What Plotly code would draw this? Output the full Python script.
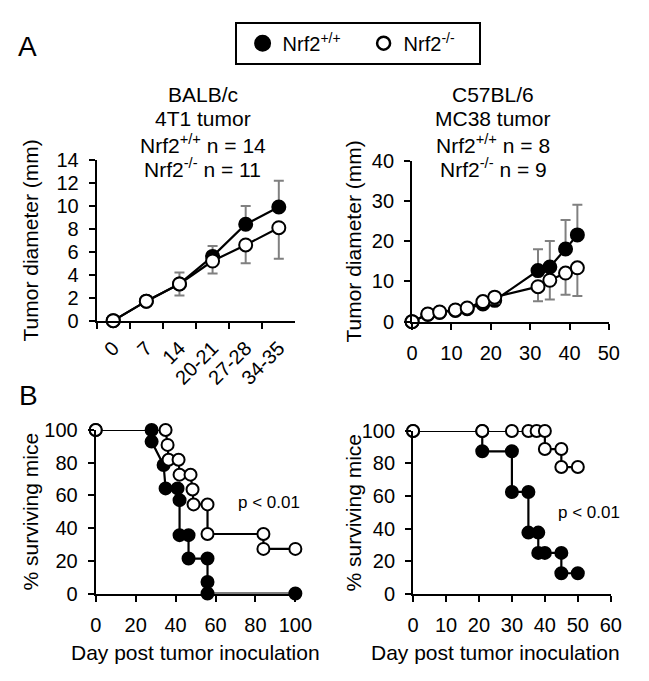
import plotly.graph_objects as go

# ---------------- Data ----------------
# Panel A (left): BALB/c, 4T1 tumor -- tumor diameter (mm) by day category
a_left_categories = ["0", "7", "14", "20-21", "27-28", "34-35"]
a_left_wt = [0, 1.7, 3.2, 5.6, 8.4, 9.9]
a_left_wt_err = [0, 0, 1.0, 0.9, 1.6, 2.3]
a_left_ko = [0, 1.7, 3.2, 5.2, 6.6, 8.1]
a_left_ko_err = [0, 0, 1.0, 1.1, 1.6, 2.7]

# Panel A (right): C57BL/6, MC38 tumor
a_right_days = [0, 4, 7, 11, 14, 18, 21, 32, 35, 39, 42]
a_right_wt = [0, 1.8, 2.3, 2.8, 3.2, 4.4, 5.3, 12.7, 13.6, 18.1, 21.6]
a_right_wt_err = [0, 0, 0, 0, 0.5, 0.8, 1.5, 5.3, 6.5, 7.2, 7.5]
a_right_ko = [0, 1.9, 2.4, 2.9, 3.4, 5.0, 6.1, 8.7, 10.3, 12.1, 13.4]
a_right_ko_err = [0, 0, 0, 0, 1.0, 1.0, 1.5, 3.6, 4.8, 5.4, 7.0]

# Panel B (left): survival (%), BALB/c
b_left_wt_days = [0, 28, 28, 34, 35, 41, 42, 42, 46.5, 46.5, 56, 56, 56, 100]
b_left_wt_surv = [100, 100, 92.9, 78.6, 64.3, 64.3, 57.1, 35.7, 35.7, 21.4, 21.4, 7.1, 0, 0]
b_left_ko_days = [0, 35, 36, 36.5, 41.5, 42, 47.5, 48.5, 49, 56, 56, 84, 84, 100]
b_left_ko_surv = [100, 100, 90.9, 81.8, 81.8, 72.7, 72.7, 63.6, 54.5, 54.5, 36.4, 36.4, 27.3, 27.3]

# Panel B (right): survival (%), C57BL/6
b_right_wt_days = [0, 21, 21, 30, 30, 35, 35, 38, 38, 40, 45, 45, 50]
b_right_wt_surv = [100, 100, 87.5, 87.5, 62.5, 62.5, 37.5, 37.5, 25, 25, 25, 12.5, 12.5]
b_right_ko_days = [0, 21, 30, 35, 37.5, 40, 40, 45, 45, 50]
b_right_ko_surv = [100, 100, 100, 100, 100, 100, 88.9, 88.9, 77.8, 77.8]

wt_name = "Nrf2<sup>+/+</sup>"
ko_name = "Nrf2<sup>-/-</sup>"
left_title_lines = ["BALB/c", "4T1 tumor", wt_name + " n = 14", ko_name + " n = 11"]
right_title_lines = ["C57BL/6", "MC38 tumor", wt_name + " n = 8", ko_name + " n = 9"]

FONT = "Liberation Sans, Arial, sans-serif"
W, H = 649, 681
ERR_COLOR = "#808080"

fig = go.Figure()


def px_x(p):
    return p / W


def px_y(p):
    return 1 - p / H


def add_series(x, y, err, filled, xa, ya, size, err_plus=True):
    kw = {}
    if err is not None:
        if err_plus:
            kw["error_y"] = dict(type="data", array=err, arrayminus=[0] * len(err),
                                 symmetric=False, color=ERR_COLOR, thickness=2, width=5)
        else:
            kw["error_y"] = dict(type="data", array=[0] * len(err), arrayminus=err,
                                 symmetric=False, color=ERR_COLOR, thickness=2, width=5)
    fig.add_trace(go.Scatter(
        x=x, y=y, mode="lines+markers", xaxis=xa, yaxis=ya, showlegend=False,
        line=dict(color="black", width=2.2),
        marker=dict(size=size, symbol="circle",
                    color="black" if filled else "white",
                    line=dict(color="black", width=2)),
        cliponaxis=False, hoverinfo="skip", **kw))


add_series(a_left_categories, a_left_wt, a_left_wt_err, True, "x", "y", 13, True)
add_series(a_left_categories, a_left_ko, a_left_ko_err, False, "x", "y", 13, False)
add_series(a_right_days, a_right_wt, a_right_wt_err, True, "x2", "y2", 13, True)
add_series(a_right_days, a_right_ko, a_right_ko_err, False, "x2", "y2", 13, False)
add_series(b_left_wt_days, b_left_wt_surv, None, True, "x3", "y3", 12)
add_series(b_left_ko_days, b_left_ko_surv, None, False, "x3", "y3", 12)
add_series(b_right_wt_days, b_right_wt_surv, None, True, "x4", "y4", 12)
add_series(b_right_ko_days, b_right_ko_surv, None, False, "x4", "y4", 12)

# Legend entries
fig.add_trace(go.Scatter(x=[None], y=[None], mode="markers", name=wt_name,
                         marker=dict(size=15, color="black", line=dict(color="black", width=2)),
                         xaxis="x", yaxis="y"))
fig.add_trace(go.Scatter(x=[None], y=[None], mode="markers", name=ko_name,
                         marker=dict(size=13, color="white", line=dict(color="black", width=2.5)),
                         xaxis="x", yaxis="y"))

TICKFONT = dict(family=FONT, size=20, color="black")
axis_common = dict(showline=True, linecolor="black", linewidth=2, ticks="outside",
                   ticklen=6, tickwidth=2, tickcolor="black", showgrid=False,
                   zeroline=False, tickfont=TICKFONT, ticklabelstandoff=6)

fig.update_layout(
    width=W, height=H, margin=dict(l=0, r=0, t=0, b=0),
    paper_bgcolor="white", plot_bgcolor="rgba(0,0,0,0)",
    font=dict(family=FONT, color="black"),
    xaxis=dict(domain=[px_x(94), px_x(300)], anchor="y", type="category",
               categoryorder="array", categoryarray=a_left_categories,
               range=[-0.5, 5.5], tickson="boundaries", tickangle=-45, **axis_common),
    yaxis=dict(domain=[px_y(320), px_y(154)], anchor="x", range=[0, 14], dtick=2,
               **axis_common),
    xaxis2=dict(domain=[px_x(421), px_x(625)], anchor="y2", range=[0, 50], dtick=10,
                **axis_common),
    yaxis2=dict(domain=[px_y(321), px_y(155)], anchor="x2", range=[0, 40], dtick=10,
                **axis_common),
    xaxis3=dict(domain=[px_x(93), px_x(300)], anchor="y3", range=[0, 100], dtick=20,
                **axis_common),
    yaxis3=dict(domain=[px_y(602), px_y(433)], anchor="x3", range=[0, 100], dtick=20,
                **axis_common),
    xaxis4=dict(domain=[px_x(422), px_x(627)], anchor="y4", range=[0, 60], dtick=10,
                **axis_common),
    yaxis4=dict(domain=[px_y(602), px_y(434)], anchor="x4", range=[0, 100], dtick=20,
                **axis_common),
    legend=dict(orientation="h", x=px_x(237), xanchor="left", y=px_y(11), yanchor="top",
                bordercolor="black", borderwidth=2, bgcolor="white",
                font=dict(family=FONT, size=20, color="black"),
                indentation=6, entrywidth=70, entrywidthmode="pixels",
                itemclick=False, itemdoubleclick=False),
    hovermode=False,
)

annotations = []


def ann(text, x, y, size, angle=0, xref="paper", yref="paper"):
    annotations.append(dict(text=text, x=x, y=y, xref=xref, yref=yref, showarrow=False,
                            xanchor="center", yanchor="middle", textangle=angle,
                            font=dict(family=FONT, size=size, color="black")))


ann("A", px_x(22), px_y(37), 28)
ann("B", px_x(23), px_y(397), 28)
for i, line in enumerate(left_title_lines):
    ann(line, px_x(204), px_y(86 + 25.5 * i), 21)
for i, line in enumerate(right_title_lines):
    ann(line, px_x(505), px_y(86 + 25.5 * i), 21)
ann("Tumor diameter (mm)", px_x(25), px_y(237), 21, -90)
ann("Tumor diameter (mm)", px_x(360), px_y(238), 21, -90)
ann("% surviving mice", px_x(25), px_y(517), 21, -90)
ann("% surviving mice", px_x(360), px_y(518), 21, -90)
ann("Day post tumor inoculation", px_x(196), px_y(663), 21)
ann("Day post tumor inoculation", px_x(508), px_y(663), 21)
ann("p < 0.01", 87, 55.6, 17, xref="x3", yref="y3")
ann("p < 0.01", 53.3, 50, 17, xref="x4", yref="y4")

fig.update_layout(annotations=annotations)

fig.write_html("out.html", config={"displayModeBar": False, "staticPlot": True},
               post_script="document.body.style.margin='0';")
